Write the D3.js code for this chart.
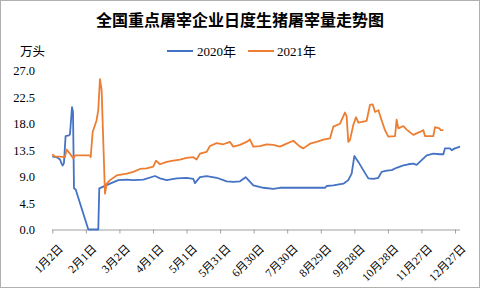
<!DOCTYPE html>
<html><head><meta charset="utf-8">
<script src="https://cdn.jsdelivr.net/npm/d3@7"></script>
<style>body{margin:0;background:#fff}svg{display:block}</style>
</head><body>
<script>
const title = "全国重点屠宰企业日度生猪屠宰量走势图";
const unitLabel = "万头";
const seriesNames = ["2020年", "2021年"];
const tickLabels = ["1月2日","2月1日","3月2日","4月1日","5月1日","5月31日","6月30日","7月30日","8月29日","9月28日","10月28日","11月27日","12月27日"];
const tickDays = [0,30,60,90,120,150,180,210,240,270,300,330,360];
const yTicks = [0, 4.5, 9, 13.5, 18, 22.5, 27];
// day offset from 1月2日
const days2020 = [0,3.9,6.9,8.3,9.2,10.4,11.9,14.9,15.8,17.6,18.5,19.4,20.9,32.2,41.1,42,45.6,51.6,59,66.5,72.4,81.4,91.8,96.3,102.2,111.2,120.1,126.1,127.5,132,138,147,155.9,161.8,167.8,172.8,179.7,188.6,197.6,203.5,243.8,245.3,251.2,260.2,264.6,267.6,270,273.6,278,282.5,287,291.5,294.4,299,303.4,307.8,313.8,318.3,322.7,325.7,330.2,334.7,340.6,346.6,349.6,351,355.5,357,360,364.5];
const vals2020 = [12.4,12.3,11.9,11.2,10.9,11.3,15.9,16.0,16.2,20.8,20.0,7.0,6.8,0,0,7.0,7.3,7.8,8.4,8.5,8.4,8.5,9.1,8.7,8.4,8.7,8.8,8.6,7.9,8.9,9.1,8.8,8.2,8.1,8.2,8.9,7.5,7.1,6.9,7.1,7.1,7.4,7.5,7.8,8.4,9.5,12.5,11.5,10.1,8.7,8.6,8.8,9.8,10.0,10.1,10.5,10.9,11.1,11.2,11.0,11.8,12.6,12.9,12.8,12.8,13.8,13.8,13.5,13.8,14.1];
const days2021 = [0,2.4,6.9,11.3,12.8,15.8,18.8,20.3,33.7,34.3,36.1,39.6,41.1,42.6,44.1,47.1,48.6,51.6,57.5,66.5,72.4,78.4,84.3,90.3,92.7,96.3,102.2,108.2,114.1,120.1,126.1,129,132,138,140.9,146.9,152.9,158.8,161.8,167.8,173.7,176.7,179.7,185.6,191.6,197.6,203.5,209.5,215.5,221.4,224.4,230.4,236.3,242.3,248.2,251.2,257.2,261.6,263.1,264.6,266.1,269.1,271.5,273.6,281,284,286.4,288.5,291.5,294.4,297.4,300.4,306.4,307.8,309.3,313.8,316.8,322.7,328.7,331.7,333.2,340.6,342.1,346,347.2,349.6];
const vals2021 = [12.8,12.4,12.4,12.3,13.6,12.9,12.1,12.6,12.6,12.3,16.6,18.6,20.3,25.6,23.7,6.1,7.8,8.4,9.2,9.5,9.8,10.3,10.4,10.7,11.7,11.1,11.5,11.7,11.9,12.2,12.3,11.9,12.9,13.2,14.2,14.7,14.5,14.9,14.1,14.4,14.9,15.3,14.1,14.2,14.5,14.4,14.1,14.6,15.1,14.1,13.8,14.6,14.9,15.3,15.5,17.5,18.0,19.9,19.3,14.9,15.2,17.8,19.1,18.2,18.5,21.2,21.3,20.0,20.3,18.6,16.9,15.8,15.9,18.7,17.2,17.6,17.0,16.1,16.6,16.9,15.9,15.9,17.4,17.2,16.9,16.9];
const colors = ["#4472C4", "#ED7D31"];

const W = 480, H = 288;
const svg = d3.select("body").append("svg").attr("width", W).attr("height", H);
svg.append("rect").attr("x",0.5).attr("y",0.5).attr("width",W-1).attr("height",H-1)
  .attr("fill","#fff").attr("stroke","#b0b0b0");

const x = d3.scaleLinear().domain([0, 360]).range([52.3, 455]);
const y = d3.scaleLinear().domain([0, 27]).range([229.5, 70.8]);
const numFont = "'Liberation Serif','Noto Sans CJK SC',serif";

svg.append("text").attr("x", 240).attr("y", 26).attr("text-anchor","middle")
  .attr("font-family","'Noto Sans CJK SC',sans-serif").attr("font-weight","bold")
  .attr("font-size",16).attr("fill","#000").text(title);

svg.append("text").attr("x", 20).attr("y", 56).attr("font-family", numFont)
  .attr("font-size",12.5).attr("fill","#000").text(unitLabel);

// legend
const lg = [[167,197],[248,277]];
seriesNames.forEach((n,i)=>{
  svg.append("line").attr("x1",lg[i][0]).attr("x2",lg[i][0]+26).attr("y1",51).attr("y2",51)
    .attr("stroke",colors[i]).attr("stroke-width",2);
  svg.append("text").attr("x",lg[i][1]).attr("y",56).attr("font-family",numFont)
    .attr("font-size",13).attr("fill","#000").text(n);
});

// y axis labels
const yAxis = d3.axisLeft(y).tickValues(yTicks).tickSize(0).tickPadding(0)
  .tickFormat(d3.format(".1f"));
const gy = svg.append("g").attr("transform","translate(35,0)").call(yAxis);
gy.select(".domain").remove();
gy.selectAll("text").attr("font-family",numFont).attr("font-size",12.5).attr("fill","#000");

// x axis
const xAxis = d3.axisBottom(x).tickValues(tickDays).tickSize(4).tickFormat((d,i)=>tickLabels[i]);
const gx = svg.append("g").attr("transform","translate(0,229.5)").call(xAxis);
gx.select(".domain").attr("d", `M${x(0)},0.5H${x(364.5)}`).attr("stroke","#a0a0a0");
gx.selectAll(".tick line").attr("stroke","#a0a0a0");
gx.selectAll(".tick text").attr("font-family",numFont).attr("font-size",11.5).attr("fill","#000")
  .attr("text-anchor","end").attr("dy","0.35em")
  .attr("transform","translate(8,17) rotate(-45)").attr("y",0).attr("x",0);

const line = d3.line().x(d=>x(d[0])).y(d=>y(d[1]));
[[days2020, vals2020],[days2021, vals2021]].forEach((s,i)=>{
  const pts = s[0].map((d,j)=>[d, s[1][j]]);
  svg.append("path").datum(pts).attr("d", line).attr("fill","none")
    .attr("stroke",colors[i]).attr("stroke-width",1.8).attr("stroke-linejoin","round");
});
</script>
</body></html>
